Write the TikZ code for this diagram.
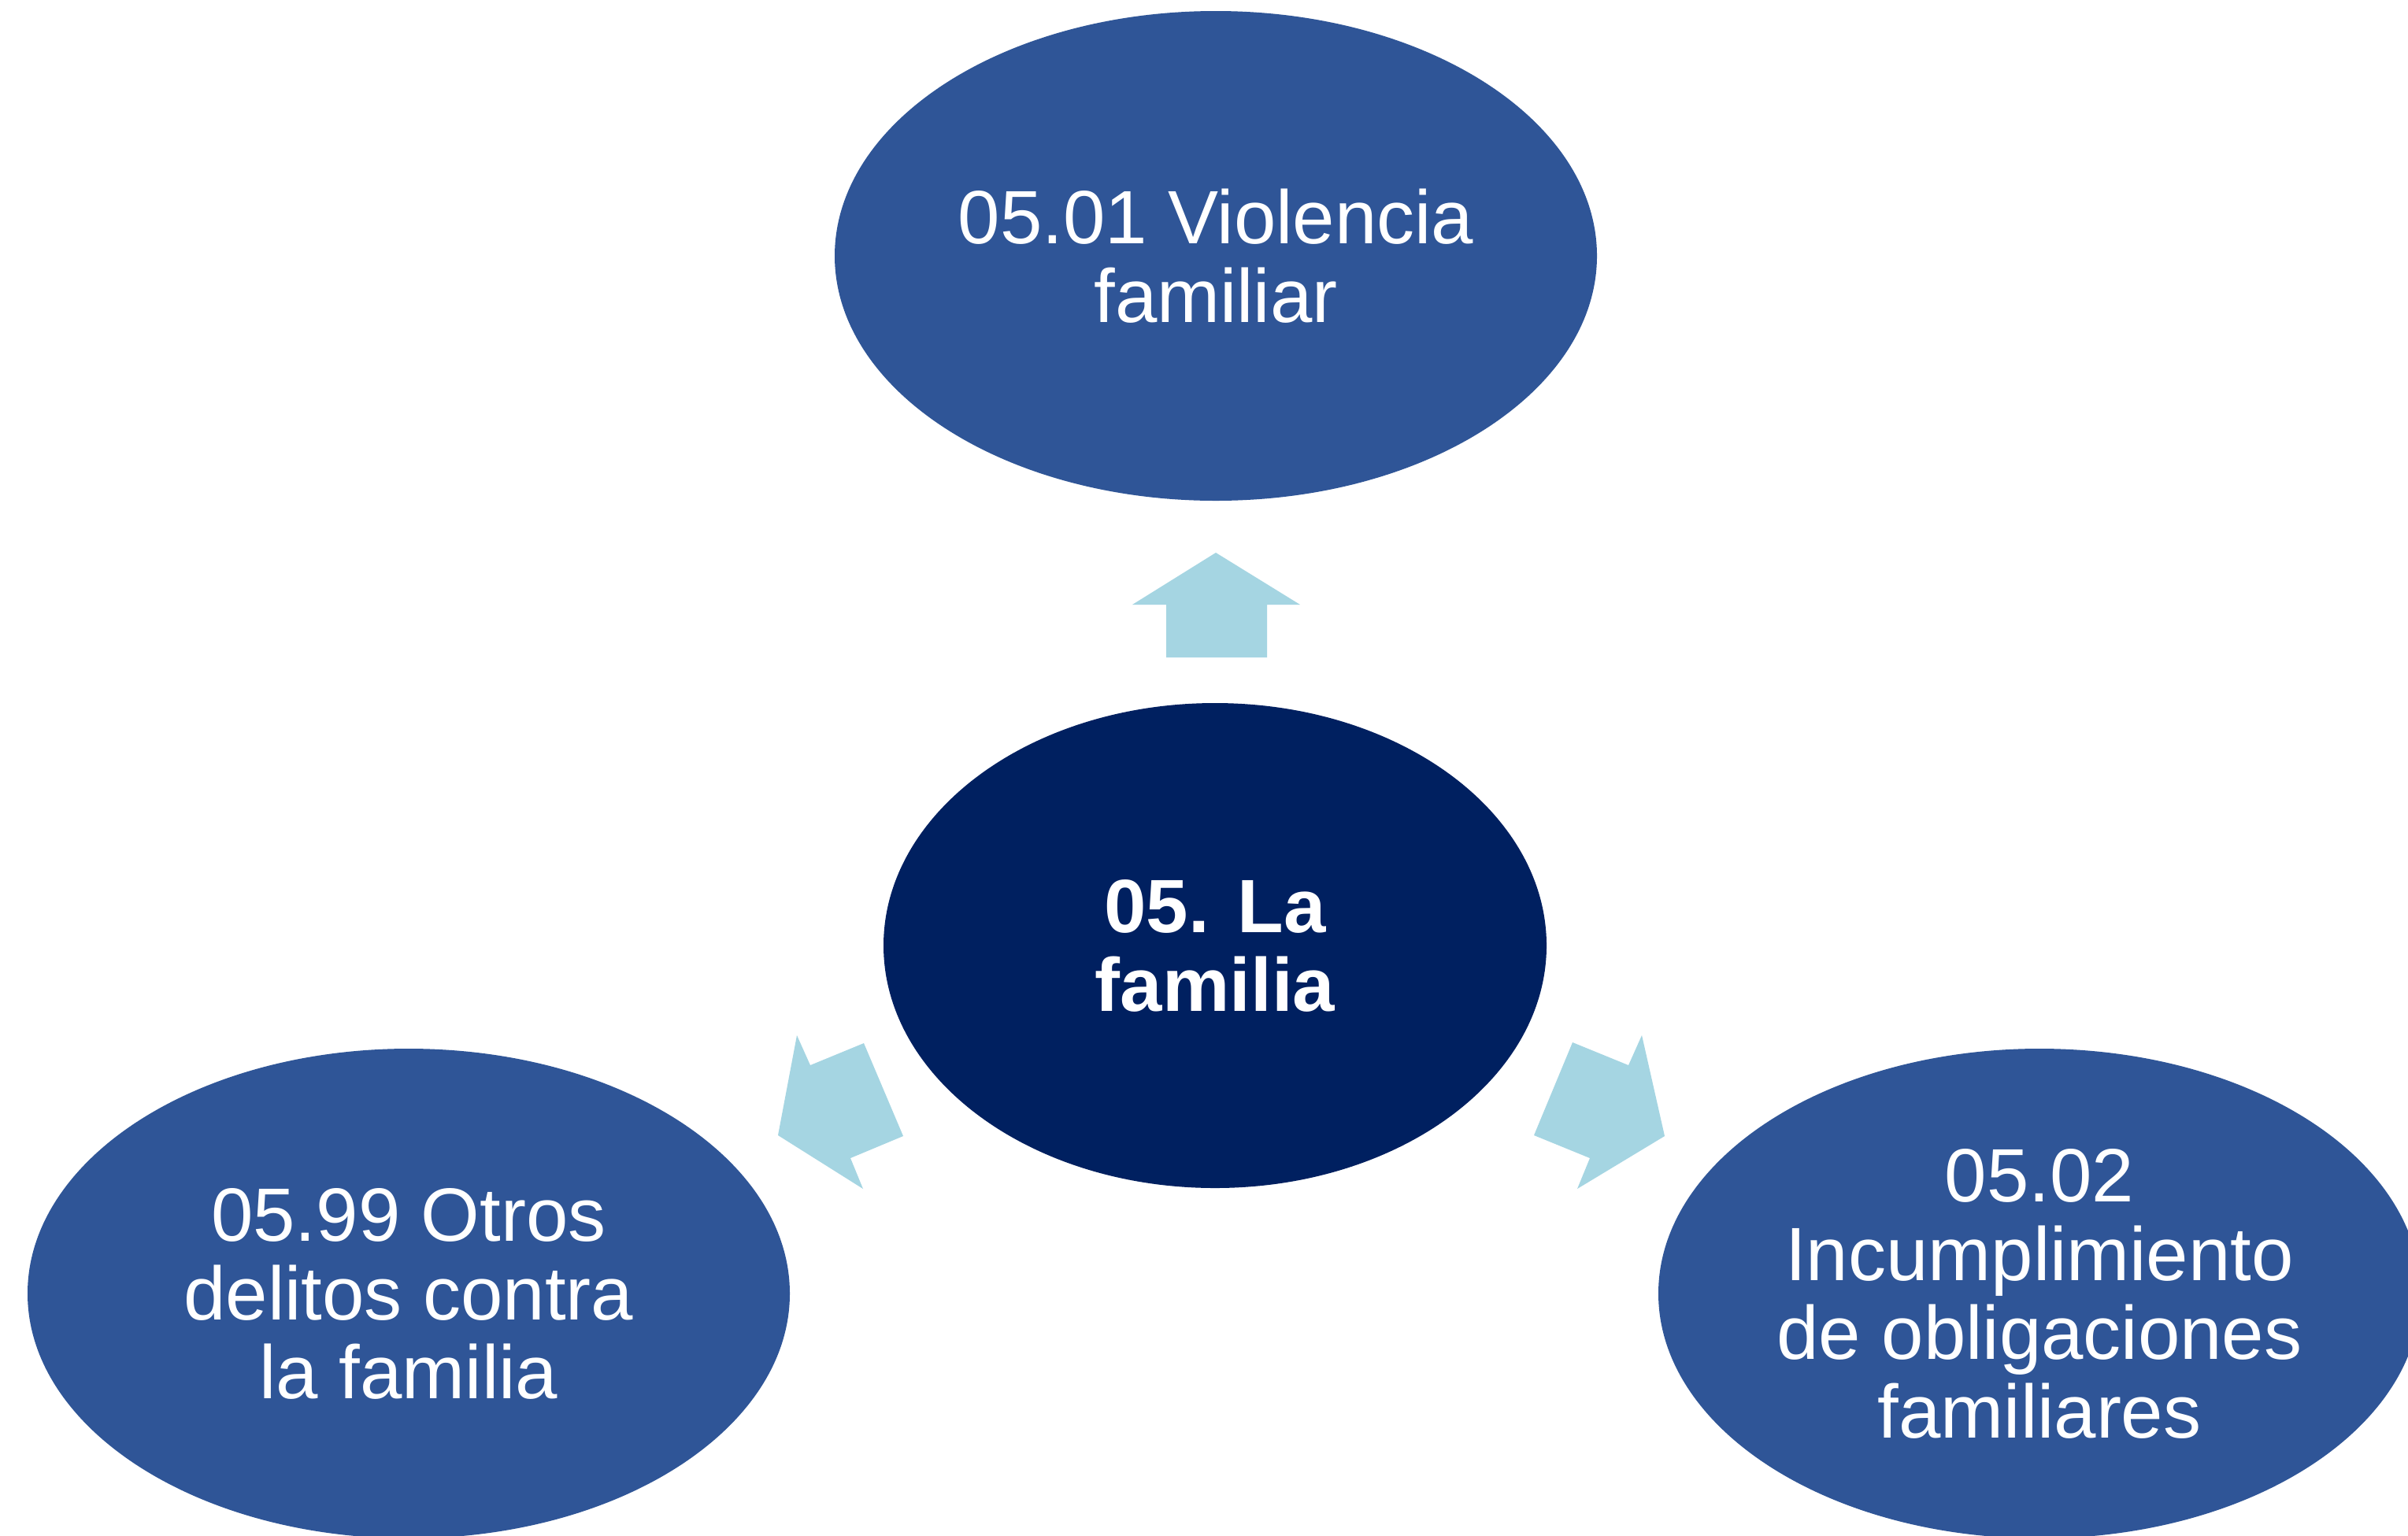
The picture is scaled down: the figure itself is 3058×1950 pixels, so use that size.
\documentclass[tikz,border=0pt]{standalone}
\usepackage{fontspec}
\setmainfont{Liberation Sans}
\usetikzlibrary{shapes.geometric}
\definecolor{outerblue}{HTML}{2F5597}
\definecolor{centerblue}{HTML}{002060}
\definecolor{arrowblue}{HTML}{A5D5E2}
\tikzset{
  outerell/.style={ellipse, fill=outerblue, draw=none, inner sep=0pt, outer sep=0pt,
    minimum width=242pt, minimum height=155.5pt, text=white, align=center,
    font=\fontsize{24}{25}\selectfont},
  centerell/.style={ellipse, fill=centerblue, draw=none, inner sep=0pt, outer sep=0pt,
    minimum width=210.5pt, minimum height=154pt, text=white, align=center,
    font=\fontsize{24}{25}\selectfont\bfseries},
  blockarrow/.style={fill=arrowblue, draw=none}
}
\begin{document}
\begin{tikzpicture}[x=0.25pt, y=-0.25pt]
\useasboundingbox (0,0) rectangle (3058,1950);
\fill[white] (0,0) rectangle (3058,1950);
% ellipses
\node[outerell] (top) at (1544,325) {05.01 Violencia\\familiar};
\node[centerell] (center) at (1543,1201) {05. La\\familia};
\node[outerell] (left) at (519,1643) {05.99 Otros\\delitos contra\\la familia};
\node[outerell] (right) at (2590,1643) {05.02\\Incumplimiento\\de obligaciones\\familiares};
% block arrows
\fill[blockarrow] (1544,702) -- (1651,768) -- (1609,768) -- (1609,835) -- (1481,835) -- (1481,768) -- (1438,768) -- cycle;
\fill[blockarrow] (988,1442) -- (1012,1315) -- (1029,1353) -- (1097,1325) -- (1147,1443) -- (1080,1471) -- (1096,1510) -- cycle;
\fill[blockarrow] (2114,1443) -- (2085,1315) -- (2068,1353) -- (1997,1324) -- (1948,1442) -- (2019,1471) -- (2003,1510) -- cycle;
\end{tikzpicture}
\end{document}
